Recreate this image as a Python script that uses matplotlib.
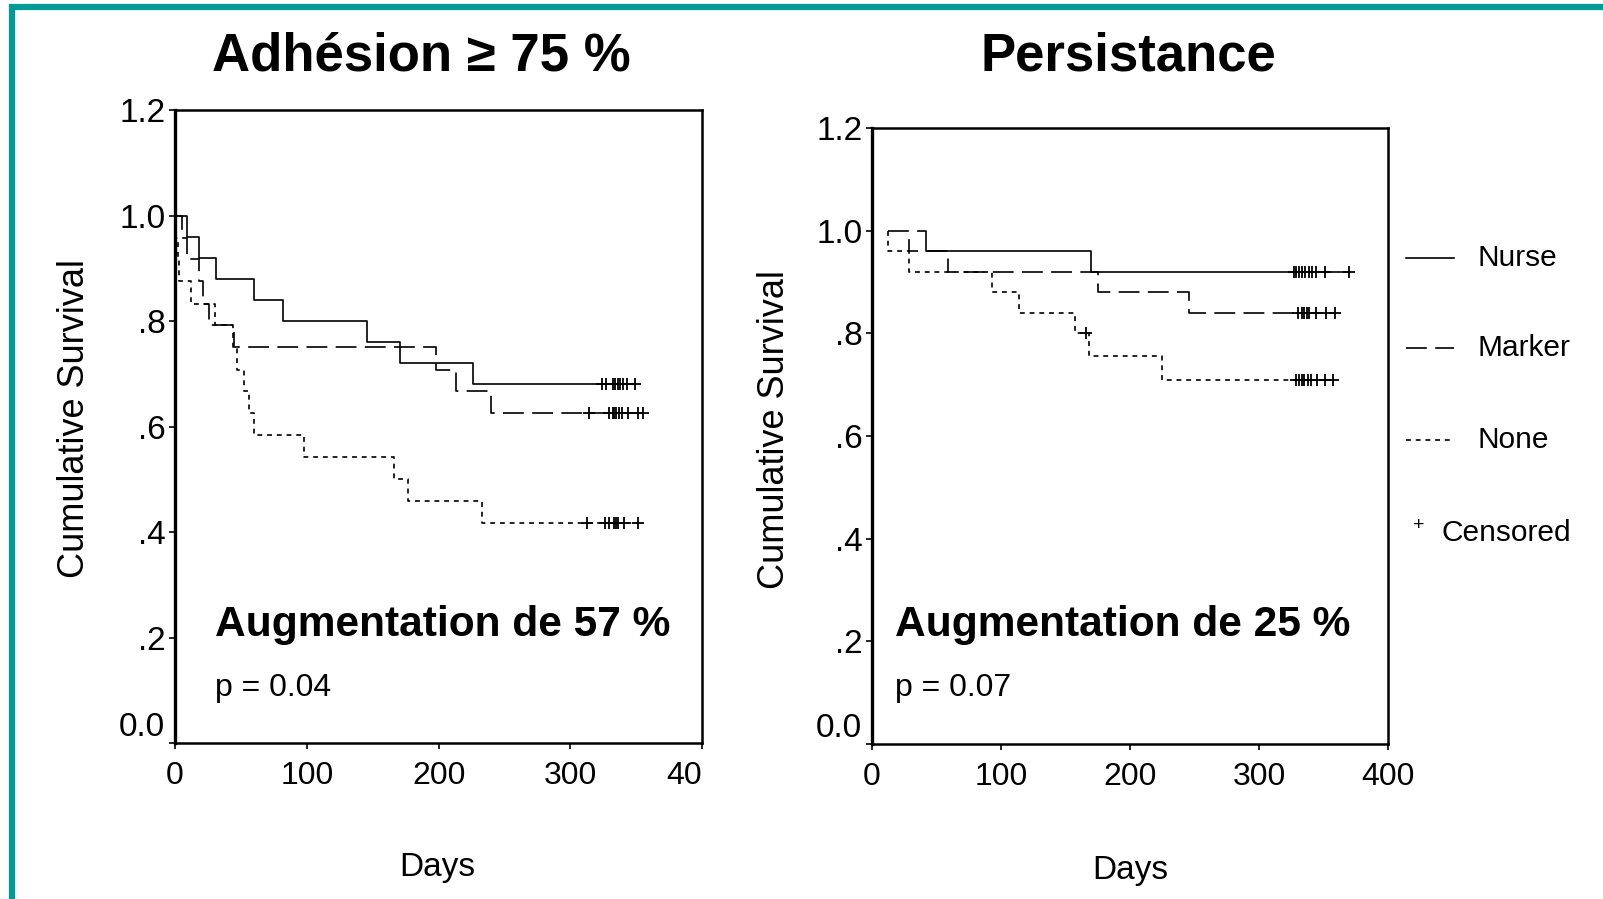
import matplotlib
matplotlib.use("Agg")
import matplotlib.pyplot as plt
from matplotlib.lines import Line2D
import numpy as np

plt.rcParams['lines.scale_dashes'] = False

FONT = 'Liberation Sans'

# Adhésion >= 75 % : event days and survival after each event
adh_nurse_t = [0, 9, 18, 31, 60, 82, 146, 171, 226]
adh_nurse_s = [1.0, 0.96, 0.92, 0.88, 0.84, 0.80, 0.76, 0.72, 0.68]
adh_nurse_cens = [324, 327, 332, 334, 336, 338, 340, 343, 349]

adh_marker_t = [0, 5, 9, 18, 21, 26, 45, 198, 213, 240]
adh_marker_s = [1.0, 0.958, 0.917, 0.875, 0.833, 0.792, 0.75, 0.708, 0.667, 0.625]
adh_marker_cens = [314, 329, 332, 333, 335, 337, 339, 344, 351, 355]

adh_none_t = [0, 1, 2, 3, 12, 30, 44, 47, 52, 56, 60, 98, 166, 177, 233]
adh_none_s = [1.0, 0.958, 0.917, 0.875, 0.833, 0.792, 0.75, 0.708, 0.667,
              0.625, 0.583, 0.542, 0.5, 0.458, 0.417]
adh_none_cens = [313, 326, 329, 333, 335, 336, 341, 351]

# Persistance
per_nurse_t = [36, 42, 170]
per_nurse_s = [1.0, 0.96, 0.92]
per_nurse_cens = [327, 329, 331, 333, 336, 339, 341, 344, 351, 370]

per_marker_t = [12, 29, 59, 175, 246]
per_marker_s = [1.0, 0.96, 0.92, 0.88, 0.84]
per_marker_cens = [330, 333, 335, 337, 339, 344, 352, 359]

per_none_t = [12, 12, 29, 93, 114, 157, 168, 225]
per_none_s = [1.0, 0.96, 0.92, 0.88, 0.84, 0.80, 0.755, 0.71]
per_none_cens = [166, 329, 331, 333, 335, 338, 340, 345, 351, 357]

groups = ['Nurse', 'Marker', 'None']
styles = {'Nurse': None, 'Marker': (15, 6), 'None': (3.5, 3.5)}

yticks = [0, 0.2, 0.4, 0.6, 0.8, 1.0, 1.2]
ytick_labels = ['0.0', '.2', '.4', '.6', '.8', '1.0', '1.2']
xticks = [0, 100, 200, 300, 400]


def km(ax, t, s, cens, dashes):
    x = list(t) + [max(cens)]
    y = list(s) + [s[-1]]
    line, = ax.step(x, y, where='post', color='black', lw=1.2)
    if dashes:
        line.set_dashes(dashes)
    idx = np.searchsorted(t, cens, side='right') - 1
    ax.plot(cens, np.array(s)[idx], ls='none', marker='+', ms=9, mew=1.3,
            color='black')


def setup(ax, xlabels):
    ax.set_xlim(0, 400)
    ax.set_ylim(0, 1.2)
    ax.set_yticks(yticks)
    ax.set_yticklabels(ytick_labels, family=FONT, fontsize=24)
    ax.set_xticks(xticks)
    ax.set_xticklabels(xlabels, family=FONT, fontsize=23)
    ax.tick_params(direction='out', length=4, width=1.2)
    ax.tick_params(axis='y', pad=3)
    ax.tick_params(axis='x', pad=9)
    for sp in ax.spines.values():
        sp.set_linewidth(1.8)
    ax.spines['left'].set_linewidth(2.4)
    ax.get_yticklabels()[0].set_va('bottom')
    ax.set_ylabel('Cumulative Survival', fontsize=26, family=FONT)
    ax.set_xlabel('Days', fontsize=24, family=FONT)


fig = plt.figure(figsize=(16.03, 8.99), dpi=100)
ax1 = fig.add_axes([0.1092, 0.1735, 0.3288, 0.7041])
ax2 = fig.add_axes([0.544, 0.1724, 0.3219, 0.6852])

km(ax1, adh_nurse_t, adh_nurse_s, adh_nurse_cens, styles['Nurse'])
km(ax1, adh_marker_t, adh_marker_s, adh_marker_cens, styles['Marker'])
km(ax1, adh_none_t, adh_none_s, adh_none_cens, styles['None'])
setup(ax1, ['0', '100', '200', '300', '40'])
ax1.get_xticklabels()[-1].set_ha('right')
ax1.yaxis.set_label_coords(-0.157, 0.512)
ax1.xaxis.set_label_coords(0.497, -0.172)

km(ax2, per_nurse_t, per_nurse_s, per_nurse_cens, styles['Nurse'])
km(ax2, per_marker_t, per_marker_s, per_marker_cens, styles['Marker'])
km(ax2, per_none_t, per_none_s, per_none_cens, styles['None'])
setup(ax2, ['0', '100', '200', '300', '400'])
ax2.yaxis.set_label_coords(-0.156, 0.511)
ax2.xaxis.set_label_coords(0.5, -0.18)

# titles and annotations
fig.text(0.2626, 0.9377, 'Adhésion ≥ 75 %', ha='center', va='center',
         fontsize=38, fontweight='bold', family=FONT)
fig.text(0.7037, 0.9377, 'Persistance', ha='center', va='center',
         fontsize=38, fontweight='bold', family=FONT)
for x0, pct, p in [(0.1341, '57', '0.04'), (0.5583, '25', '0.07')]:
    fig.text(x0, 0.3048, 'Augmentation de %s %%' % pct, ha='left', va='center',
             fontsize=30.6, fontweight='bold', family=FONT)
    fig.text(x0, 0.2347, 'p = %s' % p, ha='left', va='center',
             fontsize=23, family=FONT)

# legend
rows = [0.713, 0.6129, 0.5106]
for g, yy in zip(groups, rows):
    ln = Line2D([0.8771, 0.9071], [yy, yy], transform=fig.transFigure,
                color='black', lw=1.2)
    if styles[g]:
        ln.set_dashes(styles[g])
    fig.add_artist(ln)
    fig.text(0.922, yy, g, ha='left', va='center', fontsize=21.5, family=FONT)
fig.text(0.8852, 0.4150, '+', ha='center', va='center', fontsize=14,
         family=FONT)
fig.text(0.899, 0.4071, 'Censored', ha='left', va='center', fontsize=21.5,
         family=FONT)

# teal frame
teal = '#009a98'
fig.add_artist(Line2D([0.0075, 0.0075], [0, 0.9955], transform=fig.transFigure,
                      color=teal, lw=4.5, solid_capstyle='butt'))
fig.add_artist(Line2D([0.0056, 1.0], [0.9922, 0.9922], transform=fig.transFigure,
                      color=teal, lw=4.5, solid_capstyle='butt'))

fig.savefig('out.png', dpi=100)
